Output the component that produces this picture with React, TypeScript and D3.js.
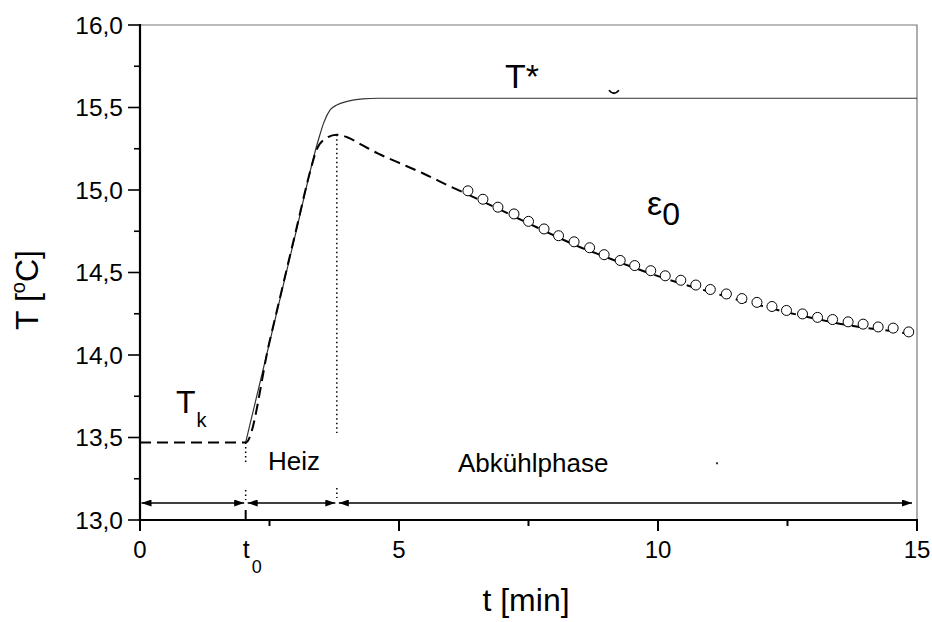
import * as React from 'react';
import * as d3 from 'd3';

// dashed curve (measured temperature) - time in min, temperature in degC
const dashTime = [0, 2.04, 2.5, 3.0, 3.3, 3.41, 3.6, 3.8, 4.0, 4.3, 4.6, 4.96, 5.47, 6.0, 6.5, 7.0, 7.5, 8.0, 8.5, 9.0, 9.5, 10, 10.5, 11, 11.5, 12, 12.5, 13, 13.5, 14, 14.5, 15];
const dashTemp = [13.47, 13.47, 14.08, 14.74, 15.13, 15.245, 15.315, 15.335, 15.32, 15.27, 15.22, 15.17, 15.1, 15.02, 14.948, 14.873, 14.798, 14.723, 14.653, 14.593, 14.533, 14.478, 14.428, 14.383, 14.338, 14.298, 14.258, 14.223, 14.19, 14.165, 14.145, 14.12];

// solid curve T*
const starTime = [2.04, 3.0, 3.44, 3.55, 3.67, 3.8, 4.0, 4.3, 4.6, 15];
const starTemp = [13.47, 14.73, 15.3, 15.41, 15.485, 15.515, 15.537, 15.552, 15.556, 15.556];

// open circles (fit points)
const dotTime = [6.33, 6.62, 6.91, 7.22, 7.5, 7.8, 8.08, 8.38, 8.68, 8.96, 9.27, 9.55, 9.86, 10.14, 10.44, 10.73, 11.01, 11.32, 11.62, 11.91, 12.2, 12.48, 12.79, 13.08, 13.37, 13.67, 13.96, 14.25, 14.54, 14.84];
const dotTemp = [14.995, 14.944, 14.896, 14.855, 14.81, 14.764, 14.723, 14.686, 14.65, 14.608, 14.573, 14.542, 14.511, 14.48, 14.453, 14.424, 14.397, 14.37, 14.342, 14.319, 14.294, 14.27, 14.249, 14.228, 14.215, 14.201, 14.187, 14.17, 14.163, 14.14];

// phase markers
const t0 = 2.04;
const tPeak = 3.8;
const arrowTemp = 13.103;
// dotted guide pieces [time, from, to]
const guides = [
  [t0, 13.47, 13.352],
  [t0, 13.182, 13.121],
  [tPeak, 15.335, 13.527],
  [tPeak, 13.194, 13.133],
];
const phases = [[0, t0], [t0, tPeak], [tPeak, 15]];

const xMajor = [0, 5, 10, 15];
const xMinor = [2.5, 7.5, 12.5];
const yMajor = [13, 13.5, 14, 14.5, 15, 15.5, 16];
const yMinor = [13.25, 13.75, 14.25, 14.75, 15.25, 15.75];

const FONT = '"Liberation Sans", Arial, sans-serif';

const renderChart = (node) => {
  d3.select(node).selectAll('*').remove();

  const width = 932;
  const height = 622;
  const left = 140;
  const right = 917;
  const top = 25;
  const bottom = 520;

  const svg = d3.select(node)
    .attr('width', width)
    .attr('height', height)
    .style('font-family', FONT);

  const x = d3.scaleLinear().domain([0, 15]).range([left, right]);
  const y = d3.scaleLinear().domain([13, 16]).range([bottom, top]);

  // arrow head
  const defs = svg.append('defs');
  defs.append('marker')
    .attr('id', 'head')
    .attr('viewBox', '0 0 10 7')
    .attr('refX', 10)
    .attr('refY', 3.5)
    .attr('markerWidth', 10)
    .attr('markerHeight', 7)
    .attr('markerUnits', 'userSpaceOnUse')
    .attr('orient', 'auto-start-reverse')
    .append('path')
    .attr('d', 'M0,0 L10,3.5 L0,7 Z')
    .attr('fill', '#000');

  // frame top / right (thin)
  svg.append('path')
    .attr('d', `M${left},${top}H${right}V${bottom}`)
    .attr('fill', 'none')
    .attr('stroke', '#777')
    .attr('stroke-width', 1.2);

  // dotted guides
  guides.forEach((g) => {
    svg.append('line')
      .attr('x1', x(g[0])).attr('x2', x(g[0]))
      .attr('y1', y(g[1])).attr('y2', y(g[2]))
      .attr('stroke', '#000')
      .attr('stroke-width', 1.5)
      .attr('stroke-dasharray', '1.5,3');
  });

  // phase arrows
  phases.forEach((p, i) => {
    const x1 = x(p[0]) + (i === 0 ? 1.5 : 2);
    const x2 = x(p[1]) - (i === 2 ? 5 : 1.5);
    svg.append('line')
      .attr('x1', x1).attr('x2', x2)
      .attr('y1', y(arrowTemp)).attr('y2', y(arrowTemp))
      .attr('stroke', '#000')
      .attr('stroke-width', 1.4)
      .attr('marker-start', 'url(#head)')
      .attr('marker-end', 'url(#head)');
  });

  // T* solid line
  const line = d3.line()
    .x((d: any) => x(d[0]))
    .y((d: any) => y(d[1]))
    .curve(d3.curveMonotoneX);

  svg.append('path')
    .datum(starTime.map((t, i) => [t, starTemp[i]]))
    .attr('d', line as any)
    .attr('fill', 'none')
    .attr('stroke', '#333')
    .attr('stroke-width', 1.2);

  // dashed measured line
  svg.append('path')
    .datum(dashTime.map((t, i) => [t, dashTemp[i]]))
    .attr('d', line as any)
    .attr('fill', 'none')
    .attr('stroke', '#000')
    .attr('stroke-width', 2)
    .attr('stroke-dasharray', '11,6');

  // circles
  svg.append('g')
    .selectAll('circle')
    .data(dotTime.map((t, i) => [t, dotTemp[i]]))
    .enter()
    .append('circle')
    .attr('cx', (d) => x(d[0]))
    .attr('cy', (d) => y(d[1]))
    .attr('r', 5)
    .attr('fill', '#fff')
    .attr('stroke', '#000')
    .attr('stroke-width', 1);

  // small stray marks in the original
  svg.append('path')
    .attr('d', `M${x(9.15) - 5},${y(15.556) - 8} Q${x(9.15)},${y(15.556) - 2} ${x(9.15) + 5},${y(15.556) - 8}`)
    .attr('fill', 'none')
    .attr('stroke', '#000')
    .attr('stroke-width', 1.8);
  svg.append('rect')
    .attr('x', x(11.12)).attr('y', y(13.35))
    .attr('width', 2).attr('height', 2)
    .attr('fill', '#333');

  // x-axis
  const xAxis = svg.append('g').attr('transform', `translate(0,${bottom})`);
  xAxis.append('line')
    .attr('x1', left - 1).attr('x2', right + 1)
    .attr('stroke', '#000').attr('stroke-width', 2.2);
  xAxis.selectAll('.maj').data(xMajor).enter().append('line')
    .attr('x1', (d) => x(d)).attr('x2', (d) => x(d))
    .attr('y1', 0).attr('y2', 11)
    .attr('stroke', '#000').attr('stroke-width', 2);
  xAxis.selectAll('.min').data(xMinor).enter().append('line')
    .attr('x1', (d) => x(d)).attr('x2', (d) => x(d))
    .attr('y1', 0).attr('y2', 6)
    .attr('stroke', '#000').attr('stroke-width', 2);
  xAxis.selectAll('text').data(xMajor).enter().append('text')
    .attr('x', (d) => x(d))
    .attr('y', 38)
    .attr('text-anchor', 'middle')
    .attr('font-size', 24)
    .text((d) => d);
  // t0 mark
  xAxis.append('line')
    .attr('x1', x(t0)).attr('x2', x(t0))
    .attr('y1', -10).attr('y2', 0)
    .attr('stroke', '#000').attr('stroke-width', 2);
  const t0Label = xAxis.append('text')
    .attr('x', x(t0) - 3)
    .attr('y', 38)
    .attr('font-size', 25);
  t0Label.append('tspan').text('t');
  t0Label.append('tspan').attr('font-size', 18).attr('dx', 2).attr('dy', 15).text('0');

  // y-axis
  const yAxis = svg.append('g').attr('transform', `translate(${left},0)`);
  yAxis.append('line')
    .attr('y1', top - 1).attr('y2', bottom + 1)
    .attr('stroke', '#000').attr('stroke-width', 2.2);
  yAxis.selectAll('.maj').data(yMajor).enter().append('line')
    .attr('y1', (d) => y(d)).attr('y2', (d) => y(d))
    .attr('x1', -12).attr('x2', 0)
    .attr('stroke', '#000').attr('stroke-width', 1.6);
  yAxis.selectAll('.min').data(yMinor).enter().append('line')
    .attr('y1', (d) => y(d)).attr('y2', (d) => y(d))
    .attr('x1', -6).attr('x2', 0)
    .attr('stroke', '#000').attr('stroke-width', 1.6);
  yAxis.selectAll('text').data(yMajor).enter().append('text')
    .attr('x', -17)
    .attr('y', (d) => y(d))
    .attr('dy', '0.36em')
    .attr('text-anchor', 'end')
    .attr('font-size', 24.5)
    .text((d) => d3.format('.1f')(d).replace('.', ','));

  // axis titles
  svg.append('text')
    .attr('x', 526)
    .attr('y', 611)
    .attr('text-anchor', 'middle')
    .attr('font-size', 32)
    .text('t [min]');

  const yTitle = svg.append('text')
    .attr('transform', 'translate(38,290) rotate(-90)')
    .attr('text-anchor', 'middle')
    .attr('font-size', 32);
  yTitle.append('tspan').text('T [');
  yTitle.append('tspan').attr('font-size', 20).attr('dy', -13).text('o');
  yTitle.append('tspan').attr('dy', 13).text('C]');

  // curve labels
  svg.append('text')
    .attr('x', 505).attr('y', 88)
    .attr('font-size', 34)
    .text('T*');

  const eps = svg.append('text')
    .attr('x', 647).attr('y', 215)
    .attr('font-size', 34);
  eps.append('tspan').text('ε');
  eps.append('tspan').attr('dy', 10).attr('font-size', 32).text('0');

  const tk = svg.append('text')
    .attr('x', 176).attr('y', 413)
    .attr('font-size', 32);
  tk.append('tspan').text('T');
  tk.append('tspan').attr('dy', 14).attr('dx', 1).attr('font-size', 20).text('k');

  svg.append('text')
    .attr('x', 268).attr('y', 470)
    .attr('font-size', 26)
    .text('Heiz');

  svg.append('text')
    .attr('x', 458).attr('y', 472)
    .attr('font-size', 26)
    .text('Abkühlphase');
};

const App = () => {
  const ref = React.useRef<SVGSVGElement>(null);

  React.useEffect(() => {
    if (ref.current) renderChart(ref.current);
  }, []);

  return (
    <svg ref={ref} style={{ position: 'absolute', left: 0, top: 0, background: '#fff' }} />
  );
};

export default App;
